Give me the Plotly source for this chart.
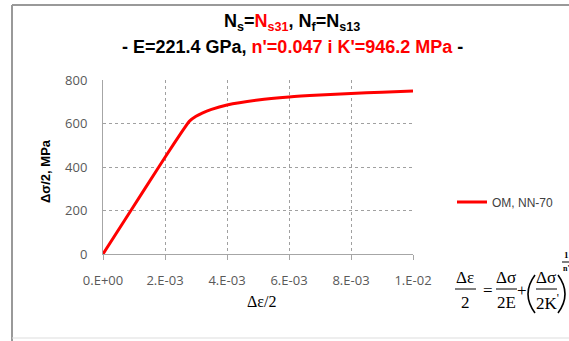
import plotly.graph_objects as go

# Data
strain = [0.0, 0.00090, 0.00180, 0.00230, 0.00262, 0.00280, 0.00300, 0.00320, 0.00350,
          0.00400, 0.00500, 0.00600, 0.00700, 0.00800, 0.00900, 0.01000]
stress = [0, 200, 400, 510, 578, 612, 633, 648, 665, 685, 708, 722, 731, 738, 744, 749]
series_name = "OM, NN-70"
x_ticks = [0, 0.002, 0.004, 0.006, 0.008, 0.010]
x_tick_labels = ["0.E+00", "2.E-03", "4.E-03", "6.E-03", "8.E-03", "1.E-02"]
y_ticks = [0, 200, 400, 600, 800]

W, H = 569, 341
L, R, T, B = 103, 413, 80, 254  # plot area in px


def px(x):
    return (x - L) / (R - L)


def py(y):
    return (B - y) / (B - T)


fig = go.Figure()
fig.add_trace(go.Scatter(x=strain, y=stress, mode="lines", name=series_name,
                         line=dict(color="#FF0000", width=3, shape="spline", smoothing=0.6)))

fig.update_layout(
    width=W, height=H,
    margin=dict(l=L, r=W - R, t=T, b=H - B, autoexpand=False),
    paper_bgcolor="white", plot_bgcolor="white",
    showlegend=True,
    legend=dict(x=px(452), y=py(202), xanchor="left", yanchor="middle",
                font=dict(family="Liberation Sans, Arial", size=12, color="#404040"),
                bgcolor="rgba(0,0,0,0)"),
    xaxis=dict(range=[0, 0.01], tickvals=x_ticks, ticktext=x_tick_labels,
               showgrid=True, gridcolor="#a0a0a0", griddash="dot", gridwidth=1,
               showline=True, linecolor="#a6a6a6", linewidth=1,
               ticks="outside", ticklen=5, tickcolor="#a6a6a6",
               ticklabelstandoff=9,
               tickfont=dict(family="Open Sans, Liberation Sans", size=13, color="#595959"),
               zeroline=False),
    yaxis=dict(range=[0, 800], tickvals=y_ticks,
               showgrid=True, gridcolor="#a0a0a0", griddash="dot", gridwidth=1,
               showline=True, linecolor="#a6a6a6", linewidth=1,
               ticks="", ticklabelstandoff=12,
               tickfont=dict(family="Open Sans, Liberation Sans", size=13, color="#595959"),
               zeroline=False),
)

ann = []


def note(x, y, s, family, size, angle=0):
    ann.append(dict(x=px(x), y=py(y), xref="paper", yref="paper", showarrow=False,
                    text=s, textangle=angle,
                    font=dict(family=family, size=size, color="#000000"),
                    xanchor="center", yanchor="middle"))


sans = "Liberation Sans, Arial"
serif = "Liberation Serif, Times New Roman"

# Title
note(292, 22, "<b>N<sub>s</sub>=<span style='color:#FF0000'>N<sub>s31</sub></span>, N<sub>f</sub>=N<sub>s13</sub></b>", sans, 18)
note(292, 47, "<b>- E=221.4 GPa, <span style='color:#FF0000'>n'=0.047 i K'=946.2 MPa</span> -</b>", sans, 18)
# Axis titles
note(45, 171, "<b>Δσ/2, MPa</b>", sans, 13, -90)
note(261, 301, "Δε/2", serif, 16)

# Formula
note(465, 277, "Δε", serif, 17)
note(465, 302, "2", serif, 17)
note(488, 290, "=", serif, 17)
note(506, 277, "Δσ", serif, 17)
note(506, 302, "2E", serif, 17)
note(522, 290, "+", serif, 17)
note(546, 277, "Δσ", serif, 17)
note(547, 302, "2K<sup>'</sup>", serif, 17)
note(566, 255, "<b>1</b>", serif, 9)
note(566, 268, "<b>n'</b>", serif, 8)

fig.update_layout(annotations=ann)

shapes = []


def line(x0, y0, x1, y1, color="#000000", width=1):
    shapes.append(dict(type="line", xref="paper", yref="paper",
                       x0=px(x0), y0=py(y0), x1=px(x1), y1=py(y1),
                       line=dict(color=color, width=width)))


def paren(x_end, x_ctrl, y0, y1):
    ym = (y0 + y1) / 2
    path = "M {} {} Q {} {} {} {}".format(px(x_end), py(y0), px(x_ctrl), py(ym), px(x_end), py(y1))
    shapes.append(dict(type="path", xref="paper", yref="paper", path=path,
                       line=dict(color="#000000", width=1.6)))


line(455, 289, 476, 289)
line(496, 289, 517, 289)
line(536, 289, 557, 289)
line(562, 262, 570, 262)
paren(535, 521, 275, 313)
paren(558, 572, 275, 313)
# chart frame
line(12, 5, 572, 5, "#999999", 2)
line(12, 5, 12, 341, "#999999", 2)
line(12, 338, 572, 338, "#dddddd", 1)
fig.update_layout(shapes=shapes)

fig.write_html("out.html", config={"displayModeBar": False})

with open("out.html", "r", encoding="utf-8") as f:
    html = f.read()
html = html.replace("<head>", "<head><style>html,body{margin:0;padding:0;overflow:hidden}</style>", 1)
with open("out.html", "w", encoding="utf-8") as f:
    f.write(html)
